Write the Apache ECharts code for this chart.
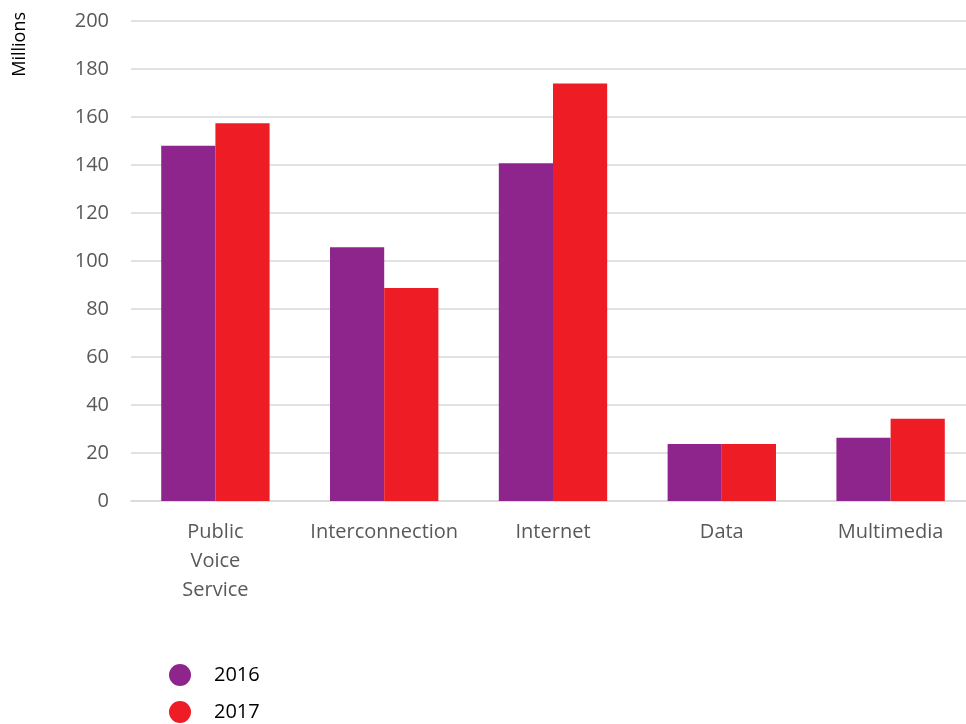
<!DOCTYPE html>
<html>
<head>
<meta charset="utf-8">
<script src="https://cdn.jsdelivr.net/npm/echarts@6/dist/echarts.min.js"></script>
<style>
  html, body { margin: 0; padding: 0; background: #fff; }
  #chart { width: 966px; height: 724px; }
</style>
</head>
<body>
<div id="chart"></div>
<script>
var categories = ['Public\nVoice\nService', 'Interconnection', 'Internet', 'Data', 'Multimedia']
var values2016 = [148, 105.7, 140.7, 23.8, 26.4]
var values2017 = [157.4, 88.8, 174, 23.8, 34.3]
var seriesNames = ['2016', '2017']

var chart = echarts.init(document.getElementById('chart'))
chart.setOption({
  textStyle: { fontFamily: 'Open Sans' },
  grid: {
    left: 131,
    right: -9,
    top: 21,
    bottom: 223,
    outerBoundsMode: 'none',
    containLabel: false
  },
  graphic: [{
    type: 'text',
    left: 11,
    top: 12,
    rotation: Math.PI / 2,
    style: {
      text: 'Millions',
      fill: '#000',
      font: '18px "Open Sans"'
    }
  }],
  legend: {
    orient: 'vertical',
    left: 169,
    top: 664,
    padding: 0,
    itemGap: 15,
    itemWidth: 22,
    itemHeight: 22,
    icon: 'circle',
    textStyle: { color: '#000', fontSize: 20, padding: [0, 0, 0, 18] },
    data: seriesNames
  },
  xAxis: {
    type: 'category',
    data: categories,
    axisTick: { show: false },
    axisLine: { show: true, lineStyle: { color: '#d9d9d9', width: 1.5 } },
    axisLabel: {
      color: '#595959',
      fontSize: 20,
      lineHeight: 29,
      margin: 17,
      interval: 0
    }
  },
  yAxis: {
    type: 'value',
    min: 0,
    max: 200,
    interval: 20,
    axisLine: { show: false },
    axisTick: { show: false },
    axisLabel: { color: '#595959', fontSize: 20, margin: 22 },
    splitLine: { lineStyle: { color: '#d9d9d9', width: 1.5 } }
  },
  series: [
    {
      name: seriesNames[0],
      type: 'bar',
      data: values2016,
      barGap: '0%',
      barCategoryGap: '35.8%',
      itemStyle: { color: '#8E258D' }
    },
    {
      name: seriesNames[1],
      type: 'bar',
      data: values2017,
      itemStyle: { color: '#EE1C25' }
    }
  ]
})
</script>
</body>
</html>
